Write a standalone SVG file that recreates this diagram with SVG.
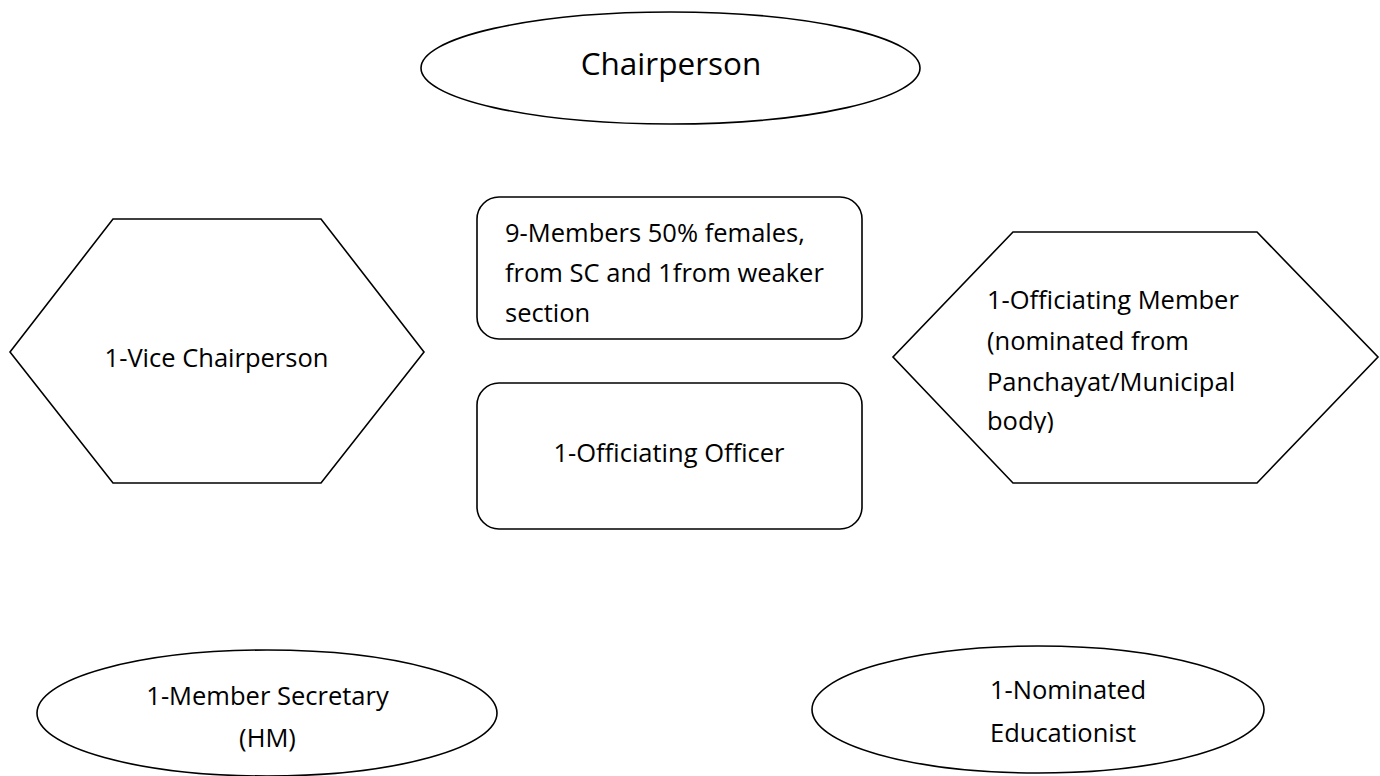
<svg xmlns="http://www.w3.org/2000/svg" width="1380" height="776" viewBox="0 0 1380 776">
<style>
.shape{fill:#fff;stroke:#000;stroke-width:1.6}
.t{font-family:"Open Sans","Liberation Sans",sans-serif;font-size:25.5px;fill:#000}
.big{font-size:31.5px}
.c{text-anchor:middle}
</style>
<defs>
<clipPath id="clipMembers"><rect x="477" y="197" width="385" height="126"/></clipPath>
<clipPath id="clipOffMember"><rect x="893" y="232" width="485" height="201"/></clipPath>
</defs>
<rect width="1380" height="776" fill="#fff"/>
<g id="connectors"></g>
<g id="chairperson">
<ellipse class="shape" cx="670.5" cy="68" rx="249.5" ry="56"/>
<text class="t big c" x="671" y="75">Chairperson</text>
</g>
<g id="vice-chairperson">
<polygon class="shape" points="113,219 321,219 424,352 321,483 113,483 10,352"/>
<text class="t c" x="216.5" y="367">1-Vice Chairperson</text>
</g>
<g id="members">
<rect class="shape" x="477" y="197" width="385" height="142" rx="22"/>
<g clip-path="url(#clipMembers)">
<text class="t" x="505" y="242">9-Members 50% females,</text>
<text class="t" x="505" y="282">from SC and 1from weaker</text>
<text class="t" x="505" y="322">section</text>
</g>
</g>
<g id="officiating-officer">
<rect class="shape" x="477" y="383" width="385" height="146" rx="22"/>
<text class="t c" x="669" y="462">1-Officiating Officer</text>
</g>
<g id="officiating-member">
<polygon class="shape" points="1013,232 1257,232 1378,357 1257,483 1013,483 893,357"/>
<g clip-path="url(#clipOffMember)">
<text class="t" x="987" y="309">1-Officiating Member</text>
<text class="t" x="987" y="350">(nominated from</text>
<text class="t" x="987" y="391">Panchayat/Municipal</text>
<text class="t" x="987" y="430">body)</text>
</g>
</g>
<g id="member-secretary">
<ellipse class="shape" cx="267" cy="713" rx="230" ry="63"/>
<text class="t c" x="267.5" y="705">1-Member Secretary</text>
<text class="t c" x="267.5" y="747">(HM)</text>
</g>
<g id="nominated-educationist">
<ellipse class="shape" cx="1038" cy="709.5" rx="226" ry="63.5"/>
<text class="t" x="990" y="699">1-Nominated</text>
<text class="t" x="990" y="742">Educationist</text>
</g>
</svg>
